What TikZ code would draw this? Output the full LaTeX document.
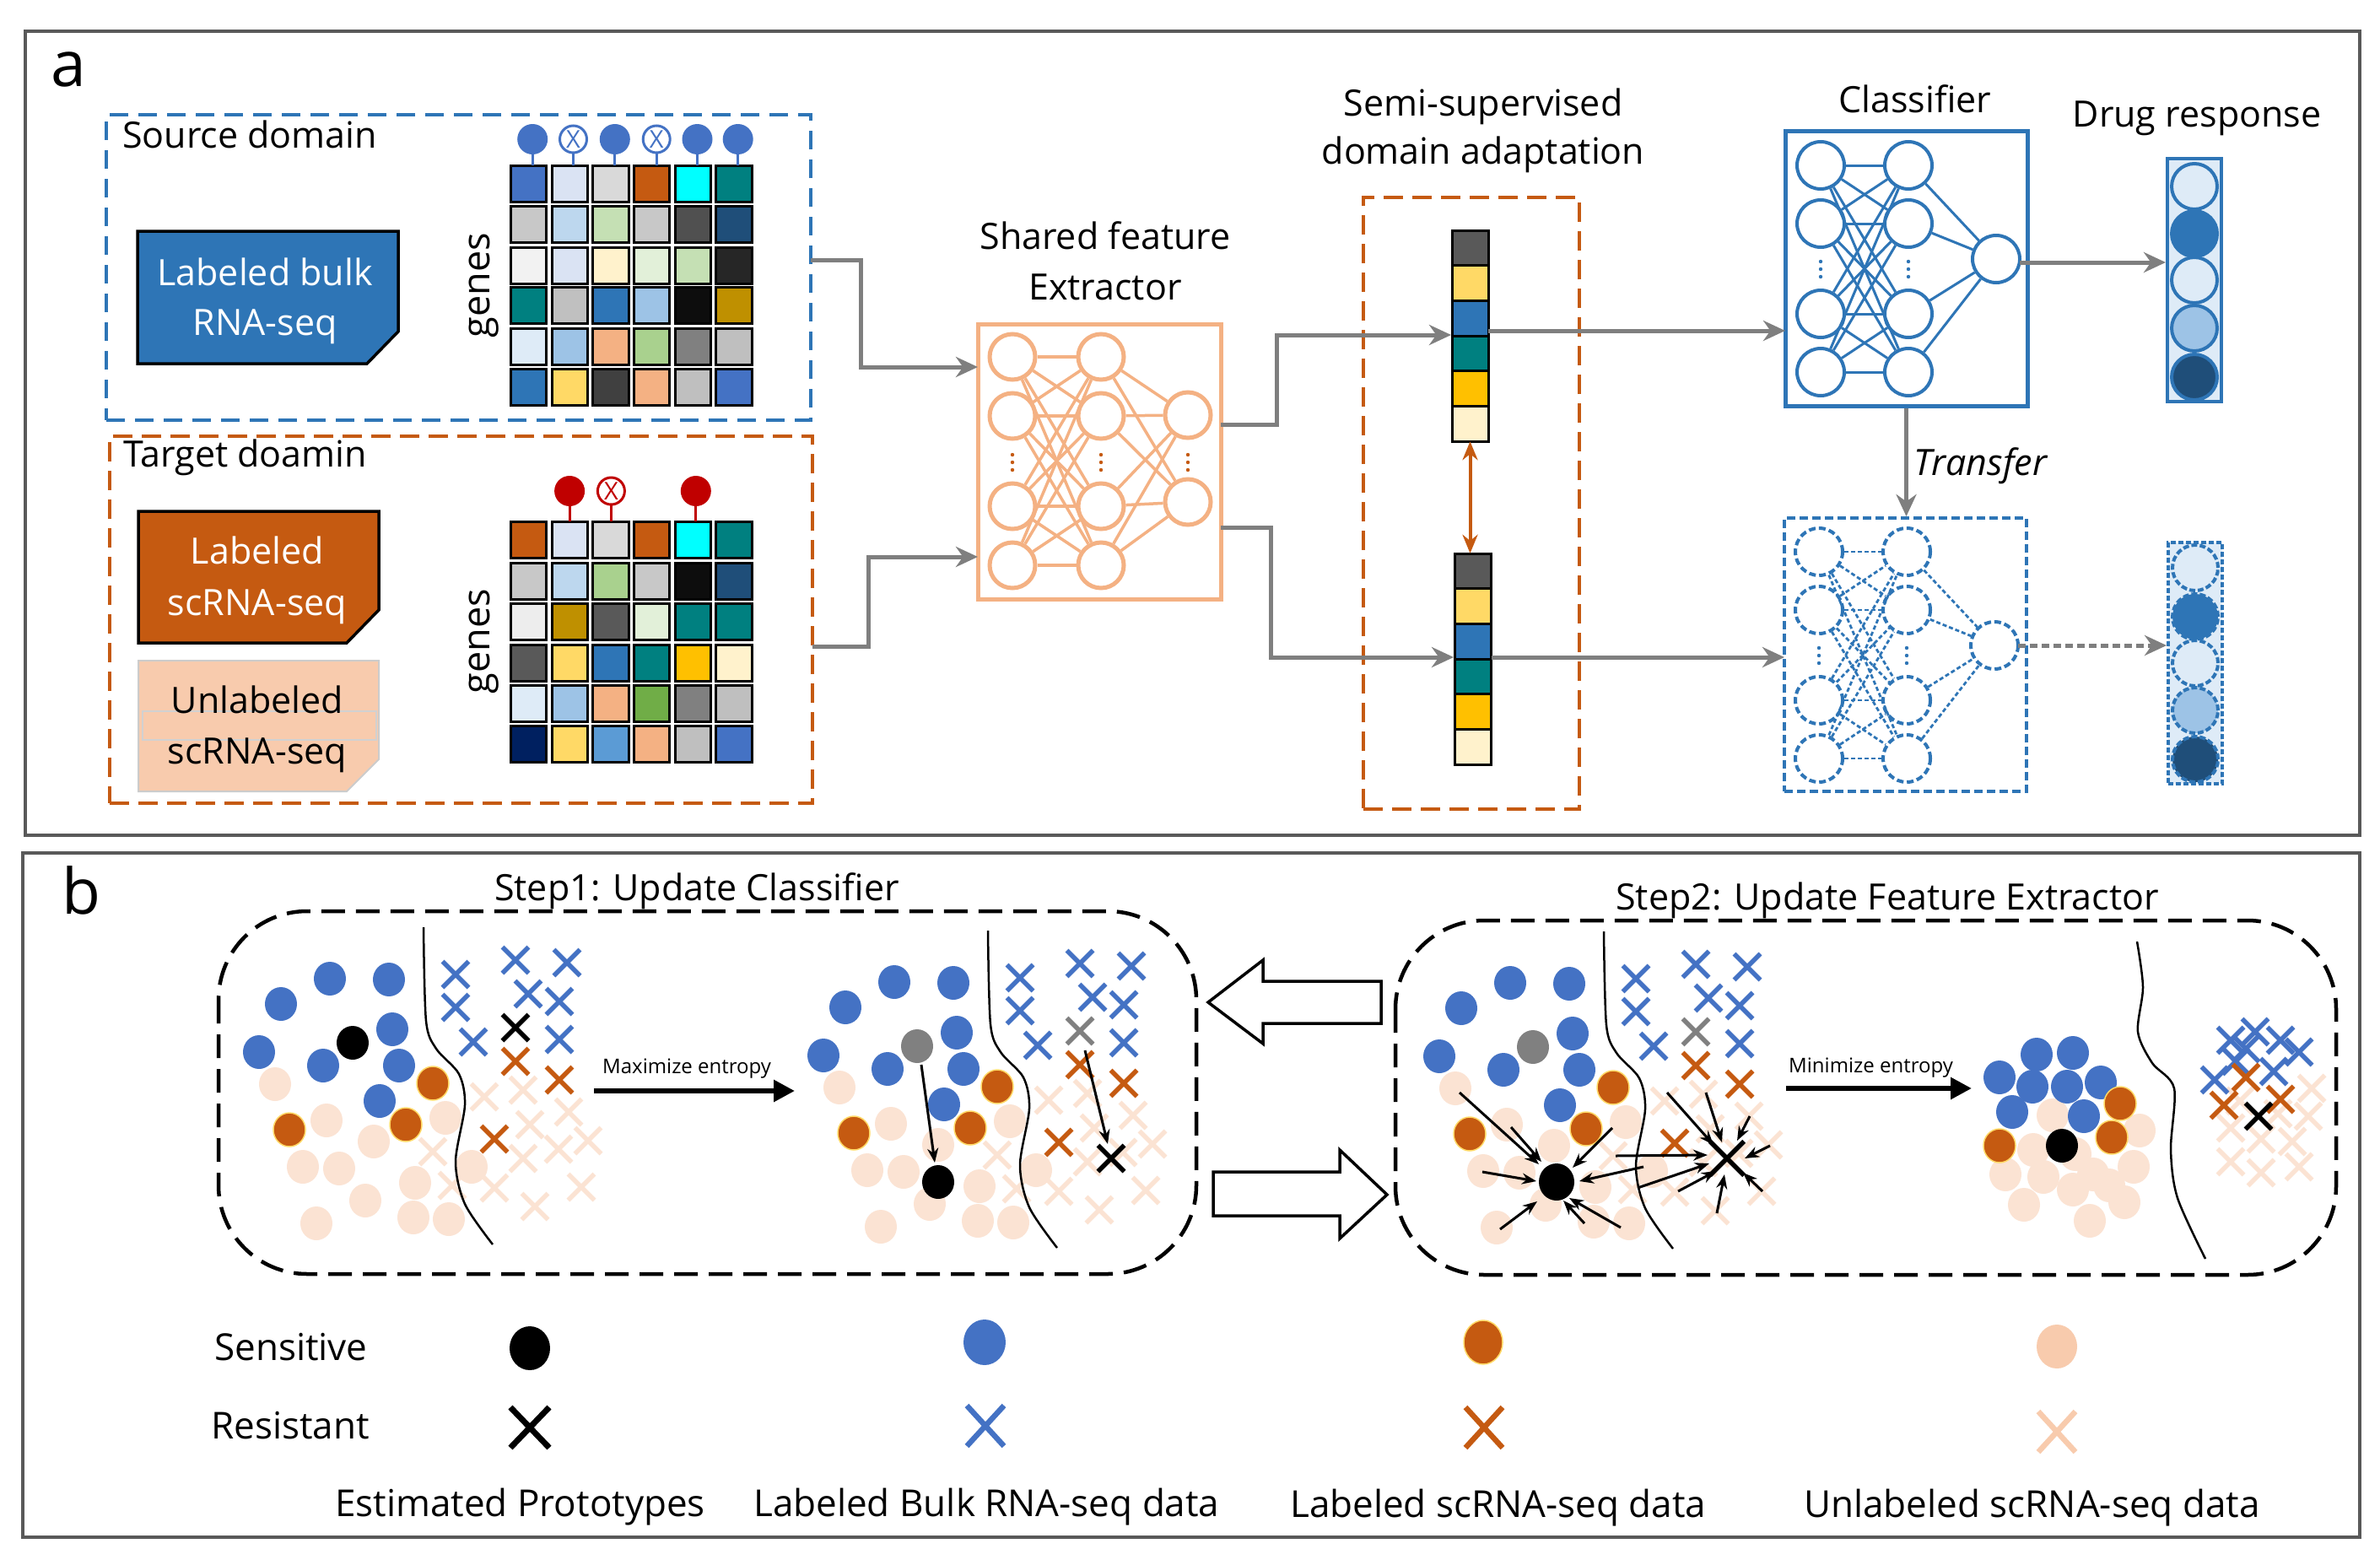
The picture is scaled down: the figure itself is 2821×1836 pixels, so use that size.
\documentclass[tikz,border=0pt]{standalone}
\usepackage{fontspec}
\setmainfont{Open Sans}
\usetikzlibrary{arrows.meta}
\newcommand\myfs[1]{\fontsize{#1}{#1}\selectfont}
\definecolor{cBlue}{HTML}{4472C4}
\definecolor{mBlue}{HTML}{2E75B6}
\definecolor{lBlue}{HTML}{DEEBF7}
\definecolor{sBlue}{HTML}{9DC3E6}
\definecolor{dBlue}{HTML}{1F4E79}
\definecolor{cOrange}{HTML}{C55A11}
\definecolor{cPeach}{HTML}{F4B183}
\definecolor{cPeachM}{HTML}{F8CBAD}
\definecolor{cPeachL}{HTML}{FBE3D3}
\definecolor{cGray}{HTML}{7F7F7F}
\definecolor{cRed}{HTML}{C00000}
\definecolor{cFrame}{HTML}{595959}
\definecolor{cYel}{HTML}{FFD966}
\definecolor{cProto}{HTML}{808080}
\definecolor{v1}{HTML}{595959}
\definecolor{v2}{HTML}{FFD966}
\definecolor{v3}{HTML}{2E75B6}
\definecolor{v4}{HTML}{008080}
\definecolor{v5}{HTML}{FFC000}
\definecolor{v6}{HTML}{FFF2CC}

\tikzset{
  panel/.style={draw=cFrame, line width=4pt},
  lbl/.style={inner sep=0pt, font=\myfs{43}},
  hcell/.style={draw=black, line width=3pt},
  srcbox/.style={draw=mBlue, line width=4pt, dash pattern=on 22pt off 12pt, inner sep=0pt},
  tgtbox/.style={draw=cOrange, line width=4pt, dash pattern=on 23pt off 11pt, inner sep=0pt},
  garrow/.style={draw=cGray, line width=5pt, -{Stealth[length=26pt,width=24pt]}},
  fneu/.style={circle, draw=cPeach, line width=5pt, minimum size=54pt, inner sep=0pt},
  fcon/.style={draw=cPeach, line width=3.5pt},
  cneu/.style={circle, draw=mBlue, line width=4pt, minimum size=56pt, inner sep=0pt},
  ccon/.style={draw=mBlue, line width=3pt},
  dneu/.style={circle, draw=mBlue, line width=4pt, dash pattern=on 8pt off 4pt, minimum size=56pt, inner sep=0pt},
  dcon/.style={draw=mBlue, line width=2.8pt, dash pattern=on 5pt off 3pt},
  drc/.style={circle, draw=mBlue, line width=4pt, minimum size=54pt, inner sep=0pt},
  stepbox/.style={draw=black, line width=4.5pt, dash pattern=on 28pt off 13pt, rounded corners=105pt},
  sarrow/.style={draw=black, line width=3pt, -{Stealth[length=17pt,width=13pt]}},
  bigarrow/.style={draw=black, line width=6pt, -{Triangle[length=25pt,width=25pt]}},
  hollow/.style={draw=black, line width=3.5pt, fill=white},
  xm/.pic={\draw[line width=5.5pt] (-15.5,-15.5) -- (15.5,15.5) (-15.5,15.5) -- (15.5,-15.5);},
  xl/.pic={\draw[line width=7pt] (-23,-24) -- (23,24) (-23,24) -- (23,-24);},
  xlb/.pic={\draw[line width=6.5pt] (-22,-24) -- (22,24) (-22,24) -- (22,-24);}
}

\newcommand\hrow[8]{%
 \definecolor{ha}{HTML}{#3}\definecolor{hb}{HTML}{#4}\definecolor{hc}{HTML}{#5}%
 \definecolor{hd}{HTML}{#6}\definecolor{he}{HTML}{#7}\definecolor{hf}{HTML}{#8}%
 \foreach \cc [count=\k from 0] in {ha,hb,hc,hd,he,hf}
   {\draw[hcell, fill=\cc] (#1+48.7*\k,#2) rectangle ++(42.5,42.5);}%
}
\newcommand\vecbar[2]{%
 \foreach \cc [count=\k from 0] in {v1,v2,v3,v4,v5,v6}
   {\draw[line width=3pt, fill=\cc] (#1,#2+41.67*\k) rectangle ++(43,41.67);}%
}
\newcommand\dotcol[2]{\foreach \dy in {-9,0,9} {\fill[#1] (#2) ++(0,\dy) circle (2.2pt);}}

\newcommand\scene[1]{%
 \foreach \x/\y in {326/1285,387/1328,443/1353,528/1325,359/1383,402/1385,492/1402,559/1383,433/1423,375/1450,490/1443,532/1445}
   {\fill[cPeachL] (\x,\y) ellipse (19pt and 20pt);}
 \foreach \x/\y in {574/1300,620/1292,674/1318,628/1333,697/1352,513/1365,662/1362,620/1373,536/1405,586/1408,689/1407,634/1430}
   {\pic[color=cPeachL] at (\x,\y) {xm};}
 \foreach \x/\y in {391/1160,461/1161,333/1190,465/1220,307/1247,383/1263,473/1263,450/1305}
   {\fill[cBlue] (\x,\y) ellipse (19pt and 20pt);}
 \fill[#1] (418,1236) ellipse (19pt and 20pt);
 \foreach \x/\y in {513/1284,343/1339,481/1333}
   {\filldraw[fill=cOrange, draw=cYel, line width=1.5pt] (\x,\y) ellipse (19pt and 20pt);}
 \foreach \x/\y in {540/1155,611/1138,672/1141,626/1178,663/1187,540/1194,561/1235,663/1232}
   {\pic[color=cBlue] at (\x,\y) {xm};}
 \pic[color=#1] at (611,1218) {xm};
 \foreach \x/\y in {611/1258,663/1280,586/1350}
   {\pic[color=cOrange] at (\x,\y) {xm};}
 \draw[line width=2.5pt] plot[smooth] coordinates {(502,1099) (505,1210) (517,1243) (544,1273) (551,1310) (540,1377) (551,1427) (584,1475)};
}

\begin{document}
\begin{tikzpicture}[x=1pt,y=-1pt]
\useasboundingbox (0,0) rectangle (2821,1836);
\fill[white] (0,0) rectangle (2821,1836);

% ---------------- panel frames
\draw[panel] (30,37) rectangle (2797,990);
\draw[panel] (27,1011) rectangle (2797,1822);
\node[inner sep=0pt, font=\myfs{75}, anchor=base west] (la) at (60,102) {a};
\node[inner sep=0pt, font=\myfs{75}, anchor=base west] (lb) at (73,1083) {b};

% ---------------- source domain
\node[srcbox, minimum width=835pt, minimum height=362pt] (src) at (543.5,317) {};
\node[lbl, anchor=base west] (tsrc) at (145,175) {Source domain};
\filldraw[fill=mBlue, draw=black, line width=3.5pt] (163,274) -- (472,274) -- (472,393) -- (435,431) -- (163,431) -- cycle;
\node[lbl, text=white, anchor=base] (bulk1) at (314,338) {Labeled bulk};
\node[lbl, text=white, anchor=base] (bulk2) at (314,397) {RNA-seq};
\node[lbl, font=\myfs{45}, rotate=90] (genes1) at (574,338) {genes};
\hrow{605.3}{196.5}{4472C4}{DAE3F3}{D9D9D9}{C55A11}{00FFFF}{008080}
\hrow{605.3}{244.5}{C8C8C8}{BDD7EE}{C5E0B4}{C8C8C8}{505050}{1F4E79}
\hrow{605.3}{293.5}{F2F2F2}{DAE3F3}{FFF2CC}{E2F0D9}{C5E0B4}{262626}
\hrow{605.3}{340.5}{008080}{C0C0C0}{2E75B6}{9DC3E6}{0D0D0D}{BF9000}
\hrow{605.3}{389.5}{DEEBF7}{9DC3E6}{F4B183}{A9D18E}{808080}{BFBFBF}
\hrow{605.3}{437.5}{2E75B6}{FFD966}{404040}{F4B183}{BFBFBF}{4472C4}
\foreach \x in {631.2,728.8,826.5,874.7}
  {\draw[cBlue, line width=3pt] (\x,178) -- (\x,196); \fill[cBlue] (\x,165) circle (18pt);}
\foreach \x [count=\i] in {679.5,778.2}
  {\draw[cBlue, line width=3pt] (\x,181) -- (\x,196);
   \draw[cBlue, line width=3pt, fill=white] (\x,165) circle (16pt);
   \node[inner sep=0pt, text=cBlue, font=\myfs{29}] (sx\i) at (\x,165) {X};}

% ---------------- target domain
\node[tgtbox, minimum width=833pt, minimum height=435pt] (tgt) at (546.5,734.5) {};
\node[lbl, anchor=base west] (ttgt) at (146,553) {Target doamin};
\filldraw[fill=cOrange, draw=black, line width=3.5pt] (164,606) -- (449,606) -- (449,723) -- (411,762) -- (164,762) -- cycle;
\node[lbl, text=white, anchor=base] (lsc1) at (305,668) {Labeled};
\node[lbl, text=white, anchor=base] (lsc2) at (305,729) {scRNA-seq};
\filldraw[fill=cPeachM, draw=black!20, line width=2pt] (164,783) -- (449,783) -- (449,900) -- (411,938) -- (164,938) -- cycle;
\draw[draw=black!18, line width=1.5pt] (169,843) rectangle (446,877);
\node[lbl, anchor=base] (usc1) at (305,845) {Unlabeled};
\node[lbl, anchor=base] (usc2) at (305,905) {scRNA-seq};
\node[lbl, font=\myfs{45}, rotate=90] (genes2) at (574,760) {genes};
\hrow{605.3}{618.5}{C55A11}{DAE3F3}{D9D9D9}{C55A11}{00FFFF}{008080}
\hrow{605.3}{667.5}{C8C8C8}{BDD7EE}{A9D18E}{C8C8C8}{0D0D0D}{1F4E79}
\hrow{605.3}{715.5}{EDEDED}{BF9000}{595959}{E2F0D9}{008080}{008080}
\hrow{605.3}{764.5}{595959}{FFD966}{2E75B6}{008080}{FFC000}{FFF2CC}
\hrow{605.3}{812.5}{DEEBF7}{9DC3E6}{F4B183}{70AD47}{808080}{BFBFBF}
\hrow{605.3}{860.5}{002060}{FFD966}{5B9BD5}{F4B183}{BFBFBF}{4472C4}
\foreach \x in {675.1,824.8}
  {\draw[cRed, line width=3pt] (\x,595) -- (\x,618); \fill[cRed] (\x,582) circle (18pt);}
\draw[cRed, line width=3pt] (724.4,597) -- (724.4,618);
\draw[cRed, line width=3pt, fill=white] (724.4,582) circle (16pt);
\node[inner sep=0pt, text=cRed, font=\myfs{29}] (tx1) at (724.4,582) {X};

% ---------------- shared feature extractor
\node[lbl, anchor=base] (tsfe1) at (1310,295) {Shared feature};
\node[lbl, anchor=base] (tsfe2) at (1310,355) {Extractor};
\node[draw=cPeach, line width=5pt, minimum width=288pt, minimum height=326pt, inner sep=0pt] (sfe) at (1303,547) {};
\foreach \i/\y in {1/423,2/493,3/600,4/670}
  {\node[fneu] (fa\i) at (1200,\y) {}; \node[fneu] (fb\i) at (1305,\y) {};}
\node[fneu] (fc1) at (1408,492) {};
\node[fneu] (fc2) at (1408,595) {};
\foreach \i in {1,...,4} {\foreach \j in {1,...,4} {\draw[fcon] (fa\i) -- (fb\j);}}
\foreach \i in {1,...,4} {\foreach \j in {1,2} {\draw[fcon] (fb\i) -- (fc\j);}}
\dotcol{cOrange}{1200,548}
\dotcol{cOrange}{1305,548}
\dotcol{cOrange}{1408,548}

% ---------------- semi-supervised domain adaptation
\node[lbl, anchor=base] (tssda1) at (1758,137) {Semi-supervised};
\node[lbl, anchor=base] (tssda2) at (1758,194) {domain adaptation};
\node[tgtbox, minimum width=256pt, minimum height=725pt] (ssda) at (1744,596.5) {};
\node[minimum width=43pt, minimum height=250pt, inner sep=0pt] (vu) at (1742.5,398) {};
\node[minimum width=43pt, minimum height=250pt, inner sep=0pt] (vl) at (1745.5,781) {};
\vecbar{1721}{273}
\vecbar{1724}{656}
\draw[draw=cOrange, line width=4pt, {Stealth[length=22pt,width=18pt]}-{Stealth[length=22pt,width=18pt]}] (vu.south) -- (vu.south |- vl.north);

% ---------------- classifier
\node[lbl, anchor=base] (tcls) at (2270,133) {Classifier};
\node[draw=mBlue, line width=5pt, minimum width=287pt, minimum height=326pt, inner sep=0pt] (cls) at (2259.5,318) {};
\foreach \i/\y in {1/196,2/265,3/372,4/441}
  {\node[cneu] (ca\i) at (2158,\y) {}; \node[cneu] (cb\i) at (2262,\y) {};}
\node[cneu] (cc1) at (2366,307) {};
\foreach \i in {1,...,4} {\foreach \j in {1,...,4} {\draw[ccon] (ca\i) -- (cb\j);}}
\foreach \i in {1,...,4} {\draw[ccon] (cb\i) -- (cc1);}
\dotcol{mBlue}{2158,319}
\dotcol{mBlue}{2262,319}

% lower classifier
\node[draw=mBlue, line width=4pt, dash pattern=on 10pt off 5pt, minimum width=287pt, minimum height=324pt, inner sep=0pt] (cls2) at (2258.5,776) {};
\foreach \i/\y in {1/654,2/723,3/830,4/899}
  {\node[dneu] (da\i) at (2156,\y) {}; \node[dneu] (db\i) at (2260,\y) {};}
\node[dneu] (dc1) at (2364,765) {};
\foreach \i in {1,...,4} {\foreach \j in {1,...,4} {\draw[dcon] (da\i) -- (db\j);}}
\foreach \i in {1,...,4} {\draw[dcon] (db\i) -- (dc1);}
\dotcol{mBlue}{2156,777}
\dotcol{mBlue}{2260,777}

% ---------------- drug response
\node[lbl, anchor=base] (tdrug) at (2604,150) {Drug response};
\node[draw=mBlue, fill=lBlue, line width=4pt, minimum width=64pt, minimum height=288pt, inner sep=0pt] (dr1) at (2601,332) {};
\foreach \y/\c [count=\i] in {221/lBlue,277/mBlue,332/lBlue,389/sBlue,447/dBlue}
  {\node[drc, fill=\c] (du\i) at (2601,\y) {};}
\node[draw=mBlue, fill=lBlue, line width=4pt, dash pattern=on 6pt off 3pt, minimum width=64pt, minimum height=286pt, inner sep=0pt] (dr2) at (2602,786) {};
\foreach \y/\c [count=\i] in {673/lBlue,731/mBlue,786/lBlue,842/sBlue,900/dBlue}
  {\node[drc, fill=\c, dash pattern=on 7pt off 3pt] (dl\i) at (2602,\y) {};}

% ---------------- connectors panel a
\coordinate (srcOut) at (961,308);
\coordinate (sfeIn1) at (1159,435);
\coordinate (tgtOut) at (963,766);
\coordinate (sfeIn2) at (1159,660);
\coordinate (sfeOut1) at (1447,503);
\coordinate (sfeOut2) at (1447,625);
\coordinate (vuIn) at (1720,397);
\coordinate (vlIn) at (1723,779);
\coordinate (vuOut) at (1764,392);
\coordinate (vlOut) at (1768,779);
\coordinate (clsIn) at (2116,392);
\coordinate (cls2In) at (2115,779);
\coordinate (clsOut) at (2394,311);
\coordinate (drIn) at (2567,311);
\coordinate (cls2Out) at (2392,765);
\coordinate (dr2In) at (2568,765);
\draw[garrow] (srcOut) -- ++(59,0) |- (sfeIn1);
\draw[garrow] (tgtOut) -- ++(66,0) |- (sfeIn2);
\draw[garrow] (sfeOut1) -- ++(66,0) |- (vuIn);
\draw[garrow] (sfeOut2) -- ++(59,0) |- (vlIn);
\draw[garrow] (vuOut) -- (clsIn);
\draw[garrow] (vlOut) -- (cls2In);
\draw[garrow] (clsOut) -- (drIn);
\draw[garrow, dash pattern=on 9pt off 5pt] (cls2Out) -- (dr2In);
\draw[garrow] (cls.south) -- (cls.south |- cls2.north);
\node[lbl, font=\myfs{43}\itshape, anchor=base west] (ttrans) at (2268,563) {Transfer};

% ---------------- panel b: step boxes
\node[lbl, anchor=base west] (tstep1) at (586,1067) {Step1: Update Classifier};
\node[lbl, anchor=base west] (tstep2) at (1915,1078) {Step2: Update Feature Extractor};
\draw[stepbox] (259,1080) rectangle (1418,1510);
\draw[stepbox] (1654,1091) rectangle (2769,1511);

% hollow arrows
\draw[hollow] (1432,1188) -- (1497,1138) -- (1497,1163) -- (1637,1163) -- (1637,1213) -- (1497,1213) -- (1497,1237) -- cycle;
\draw[hollow] (1438,1389) -- (1588,1389) -- (1588,1363) -- (1644,1416) -- (1588,1468) -- (1588,1441) -- (1438,1441) -- cycle;

% step1 left
\scene{black}
\coordinate (maxA) at (704,1293);
\coordinate (maxB) at (942,1293);
\draw[bigarrow] (maxA) -- (maxB);
\node[inner sep=0pt, font=\myfs{24}, anchor=base west] (tmax) at (714,1272) {Maximize entropy};

% step1 right
\begin{scope}[shift={(669,4)}]
\scene{cProto}
\end{scope}
\fill[black] (1112,1401) ellipse (19pt and 20pt);
\pic[color=black] at (1317,1373) {xm};
\draw[sarrow] (1092,1262) -- (1108,1378);
\draw[sarrow] (1286,1245) -- (1313,1356);

% step2 left
\begin{scope}[shift={(1399,5)}]
\scene{cProto}
\end{scope}
\fill[black] (1845,1401) ellipse (21pt and 22pt);
\pic[color=black, scale=1.3] at (2047,1373) {xm};
\foreach \a/\b/\c/\d in {1730/1295/1824/1380, 1791/1336/1827/1377, 1911/1337/1864/1384, 1757/1389/1821/1400, 1948/1383/1872/1400, 1778/1457/1822/1424, 1878/1450/1853/1423, 1921/1455/1860/1420}
  {\draw[sarrow] (\a,\b) -- (\c,\d);}
\foreach \a/\b/\c/\d in {1976/1295/2031/1357, 2022/1295/2041/1354, 2074/1323/2059/1352, 1915/1370/2024/1369, 2098/1358/2068/1373, 1941/1408/2026/1379, 1989/1412/2034/1388, 2035/1438/2044/1392, 2089/1412/2066/1390}
  {\draw[sarrow] (\a,\b) -- (\c,\d);}
\coordinate (minA) at (2117,1290);
\coordinate (minB) at (2337,1290);
\draw[bigarrow] (minA) -- (minB);
\node[inner sep=0pt, font=\myfs{24}, anchor=base west] (tmin) at (2120,1271) {Minimize entropy};

% step2 right
\foreach \x/\y in {2433/1322,2536/1340,2377/1392,2422/1395,2481/1392,2529/1383,2399/1428,2457/1410,2518/1425,2477/1447,2410/1363,2460/1368,2500/1405}
  {\fill[cPeachL] (\x,\y) ellipse (19pt and 20pt);}
\foreach \x/\y in {2370/1277,2414/1250,2457/1248,2409/1288,2450/1288,2490/1283,2385/1318,2470/1323}
  {\fill[cBlue] (\x,\y) ellipse (19pt and 20pt);}
\foreach \x/\y in {2513/1308,2370/1358,2503/1348}
  {\filldraw[fill=cOrange, draw=cYel, line width=1.5pt] (\x,\y) ellipse (19pt and 20pt);}
\fill[black] (2444,1358) ellipse (19pt and 20pt);
\foreach \x/\y in {2740/1290,2736/1323,2644/1337,2680/1350,2717/1353,2644/1377,2680/1390,2725/1383,2700/1320,2655/1305}
  {\pic[color=cPeachL] at (\x,\y) {xm};}
\foreach \x/\y in {2644/1233,2673/1223,2703/1233,2725/1247,2625/1280,2662/1243,2695/1270,2650/1258}
  {\pic[color=cBlue] at (\x,\y) {xm};}
\foreach \x/\y in {2662/1277,2636/1310,2703/1303}
  {\pic[color=cOrange] at (\x,\y) {xm};}
\pic[color=black] at (2677,1323) {xm};
\draw[line width=2.5pt] plot[smooth] coordinates {(2533,1116) (2540,1170) (2534,1223) (2551,1260) (2577,1290) (2573,1363) (2581,1420) (2614,1492)};

% ---------------- legend
\node[inner sep=0pt, font=\myfs{44}, anchor=base west] (tsens) at (254,1612) {Sensitive};
\node[inner sep=0pt, font=\myfs{44}, anchor=base west] (tres) at (250,1705) {Resistant};
\fill[black] (628,1598) ellipse (24pt and 26pt);
\pic[color=black] at (628,1692) {xl};
\fill[cBlue] (1167,1591) ellipse (25pt and 27pt);
\pic[color=cBlue] at (1168,1690) {xlb};
\filldraw[fill=cOrange, draw=cYel, line width=1.5pt] (1758,1591) ellipse (23pt and 26pt);
\pic[color=cOrange] at (1759,1692) {xlb};
\fill[cPeachM] (2438,1596) ellipse (24pt and 26pt);
\pic[color=cPeachM] at (2438,1697) {xlb};
\node[inner sep=0pt, font=\myfs{44}, anchor=base west] (tl1) at (397,1797) {Estimated Prototypes};
\node[inner sep=0pt, font=\myfs{44}, anchor=base west] (tl2) at (893,1797) {Labeled Bulk RNA-seq data};
\node[inner sep=0pt, font=\myfs{44}, anchor=base west] (tl3) at (1529,1798) {Labeled scRNA-seq data};
\node[inner sep=0pt, font=\myfs{44}, anchor=base west] (tl4) at (2138,1798) {Unlabeled scRNA-seq data};
\end{tikzpicture}
\end{document}
